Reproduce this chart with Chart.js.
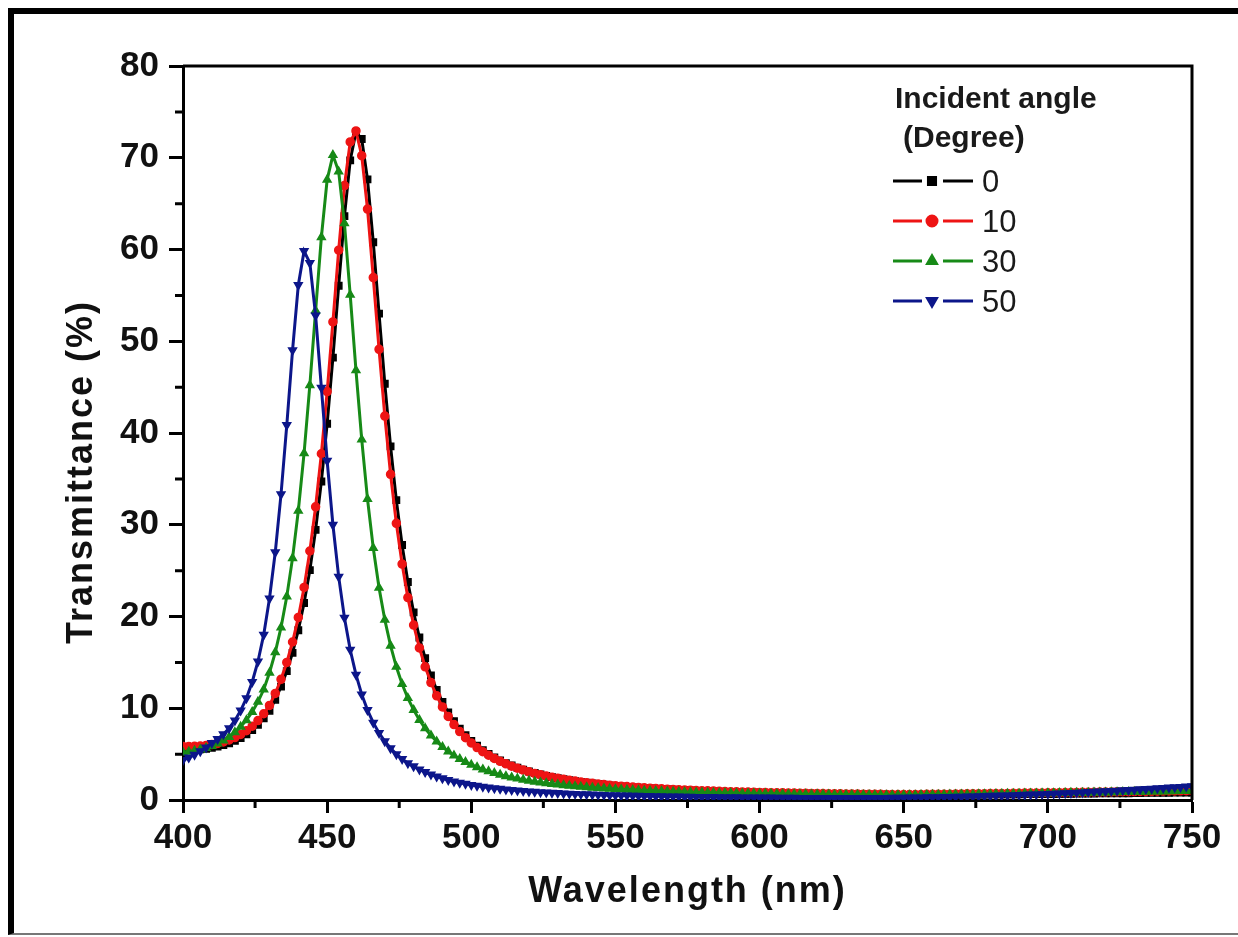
<!DOCTYPE html>
<html>
<head>
<meta charset="utf-8">
<script src="https://cdn.jsdelivr.net/npm/chart.js@4.4.1/dist/chart.umd.min.js"></script>
<style>
  html, body { margin: 0; padding: 0; background: #fff; }
  #wrap { position: relative; width: 1238px; height: 937px; }
  #frame { position: absolute; left: 8px; top: 8px; width: 1240px; height: 919px;
           border-top: 6px solid #000; border-left: 6px solid #000; border-bottom: 2px solid #777;
           pointer-events: none; }
</style>
</head>
<body>
<div id="wrap">
  <canvas id="myChart" width="1238" height="937"></canvas>
  <div id="frame"></div>
</div>
<script>
const wavelengths = [
  400,402,404,406,408,410,412,414,416,418,
  420,422,424,426,428,430,432,434,436,438,
  440,442,444,446,448,450,452,454,456,458,
  460,462,464,466,468,470,472,474,476,478,
  480,482,484,486,488,490,492,494,496,498,
  500,502,504,506,508,510,512,514,516,518,
  520,522,524,526,528,530,532,534,536,538,
  540,542,544,546,548,550,552,554,556,558,
  560,562,564,566,568,570,572,574,576,578,
  580,582,584,586,588,590,592,594,596,598,
  600,602,604,606,608,610,612,614,616,618,
  620,622,624,626,628,630,632,634,636,638,
  640,642,644,646,648,650,652,654,656,658,
  660,662,664,666,668,670,672,674,676,678,
  680,682,684,686,688,690,692,694,696,698,
  700,702,704,706,708,710,712,714,716,718,
  720,722,724,726,728,730,732,734,736,738,
  740,742,744,746,748,750
];

// transmittance (%) for each incident angle
const t0 = [
  5.45,5.46,5.48,5.52,5.59,5.69,5.82,5.98,6.19,6.45,
  6.76,7.15,7.63,8.2,8.89,9.73,10.93,12.35,14.04,16.04,
  18.5,21.47,25.05,29.44,34.72,41.01,48.22,56.05,63.64,69.72,
  72.82,72.04,67.64,60.79,53.01,45.37,38.54,32.68,27.79,23.76,
  20.45,17.71,15.46,13.57,12.0,10.68,9.55,8.59,7.78,7.06,
  6.45,5.91,5.43,5.02,4.65,4.32,4.02,3.76,3.52,3.31,
  3.11,2.94,2.78,2.63,2.49,2.37,2.26,2.15,2.05,1.96,
  1.88,1.8,1.73,1.66,1.6,1.54,1.48,1.43,1.38,1.34,
  1.3,1.26,1.22,1.18,1.15,1.12,1.09,1.06,1.03,1.0,
  0.98,0.96,0.93,0.91,0.89,0.87,0.85,0.84,0.82,0.81,
  0.79,0.77,0.76,0.75,0.73,0.72,0.71,0.7,0.69,0.68,
  0.67,0.66,0.65,0.64,0.63,0.62,0.61,0.6,0.6,0.59,
  0.58,0.57,0.57,0.56,0.55,0.55,0.55,0.55,0.56,0.56,
  0.56,0.56,0.56,0.57,0.57,0.58,0.58,0.59,0.6,0.6,
  0.61,0.61,0.61,0.62,0.62,0.63,0.64,0.64,0.65,0.65,
  0.66,0.66,0.67,0.67,0.68,0.69,0.69,0.7,0.71,0.72,
  0.72,0.72,0.73,0.74,0.74,0.75,0.76,0.77,0.78,0.78,
  0.79,0.79,0.8,0.81,0.81,0.82
];
const t10 = [
  5.84,5.84,5.85,5.88,5.95,6.04,6.16,6.33,6.54,6.81,
  7.14,7.55,8.05,8.66,9.4,10.31,11.61,13.15,14.99,17.22,
  19.9,23.17,27.14,31.96,37.74,44.51,52.1,59.93,66.97,71.72,
  72.92,70.22,64.41,56.94,49.12,41.85,35.5,30.15,25.71,22.06,
  19.07,16.58,14.52,12.8,11.36,10.14,9.11,8.22,7.46,6.79,
  6.22,5.72,5.27,4.88,4.53,4.22,3.94,3.69,3.46,3.26,
  3.07,2.9,2.75,2.61,2.48,2.36,2.25,2.15,2.06,1.97,
  1.89,1.82,1.75,1.68,1.62,1.56,1.51,1.46,1.41,1.37,
  1.33,1.29,1.25,1.22,1.18,1.15,1.12,1.09,1.07,1.04,
  1.02,1.0,0.97,0.95,0.93,0.91,0.9,0.88,0.86,0.85,
  0.83,0.82,0.8,0.79,0.78,0.77,0.75,0.74,0.73,0.72,
  0.71,0.7,0.69,0.68,0.67,0.66,0.66,0.65,0.64,0.63,
  0.62,0.62,0.61,0.6,0.6,0.59,0.6,0.6,0.61,0.62,
  0.62,0.63,0.63,0.64,0.65,0.66,0.67,0.67,0.68,0.69,
  0.7,0.71,0.71,0.72,0.73,0.74,0.75,0.75,0.76,0.77,
  0.78,0.79,0.8,0.81,0.82,0.83,0.84,0.84,0.85,0.86,
  0.87,0.88,0.89,0.9,0.91,0.92,0.93,0.94,0.95,0.96,
  0.97,0.98,0.99,1.0,1.01,1.02
];
const t30 = [
  5.19,5.26,5.37,5.5,5.67,5.88,6.16,6.48,6.88,7.38,
  7.98,8.7,9.6,10.7,12.04,13.87,16.09,18.81,22.18,26.36,
  31.52,37.8,45.21,53.34,61.34,67.6,70.29,68.49,62.85,55.06,
  46.83,39.28,32.8,27.46,23.13,19.64,16.82,14.52,12.64,11.11,
  9.82,8.73,7.81,7.03,6.37,5.79,5.29,4.85,4.47,4.13,
  3.84,3.57,3.33,3.12,2.93,2.76,2.6,2.46,2.33,2.21,
  2.1,2.0,1.91,1.83,1.75,1.68,1.61,1.55,1.49,1.44,
  1.39,1.34,1.3,1.26,1.22,1.18,1.15,1.11,1.08,1.05,
  1.02,1.0,0.97,0.95,0.93,0.91,0.89,0.87,0.85,0.83,
  0.82,0.8,0.79,0.77,0.76,0.75,0.73,0.72,0.71,0.7,
  0.69,0.68,0.67,0.66,0.65,0.64,0.63,0.62,0.62,0.61,
  0.6,0.6,0.59,0.58,0.58,0.57,0.56,0.56,0.55,0.55,
  0.54,0.54,0.53,0.53,0.52,0.52,0.52,0.53,0.55,0.55,
  0.56,0.57,0.57,0.59,0.59,0.6,0.61,0.61,0.63,0.64,
  0.64,0.65,0.66,0.67,0.68,0.69,0.7,0.7,0.72,0.73,
  0.74,0.74,0.75,0.77,0.78,0.78,0.79,0.8,0.82,0.83,
  0.83,0.84,0.85,0.87,0.88,0.89,0.89,0.9,0.92,0.93,
  0.94,0.95,0.96,0.98,0.99,1.0
];
const t50 = [
  4.36,4.63,4.94,5.31,5.73,6.22,6.64,7.17,7.83,8.67,
  9.75,11.1,12.86,15.1,18.02,21.97,27.0,33.32,40.87,49.02,
  56.13,59.83,58.54,52.82,44.94,36.97,30.0,24.34,19.87,16.38,
  13.66,11.51,9.8,8.43,7.31,6.4,5.64,5.0,4.47,4.01,
  3.67,3.33,3.04,2.78,2.56,2.36,2.18,2.02,1.88,1.76,
  1.64,1.54,1.45,1.36,1.29,1.22,1.15,1.09,1.04,0.99,
  0.94,0.89,0.85,0.82,0.78,0.75,0.72,0.69,0.66,0.64,
  0.62,0.59,0.57,0.55,0.53,0.52,0.5,0.49,0.47,0.46,
  0.44,0.43,0.42,0.4,0.39,0.38,0.37,0.36,0.35,0.34,
  0.33,0.33,0.32,0.31,0.3,0.3,0.29,0.28,0.28,0.27,
  0.27,0.26,0.26,0.25,0.25,0.24,0.24,0.23,0.23,0.22,
  0.22,0.22,0.22,0.22,0.22,0.21,0.21,0.21,0.22,0.22,
  0.22,0.23,0.23,0.24,0.24,0.25,0.26,0.27,0.28,0.29,
  0.3,0.31,0.32,0.33,0.35,0.36,0.38,0.39,0.41,0.43,
  0.45,0.46,0.48,0.5,0.52,0.55,0.57,0.59,0.61,0.64,
  0.66,0.69,0.71,0.74,0.77,0.8,0.83,0.86,0.89,0.92,
  0.95,0.98,1.02,1.05,1.08,1.12,1.16,1.19,1.23,1.27,
  1.31,1.35,1.39,1.43,1.47,1.51
];

const angleLabels = ['0', '10', '30', '50'];
const seriesColors = ['#000000', '#ee1414', '#178a17', '#0c168a'];
const xMinor = [425, 475, 525, 575, 625, 675, 725];
const yMinor = [5, 15, 25, 35, 45, 55, 65, 75];

const FONT = '"Liberation Sans", Arial, sans-serif';
const toPoints = vals => wavelengths.map((w, i) => ({ x: w, y: vals[i] }));

// box on top/right, minor ticks, axis titles
const framePlugin = {
    id: 'frameTicks',
    afterDatasetsDraw(chart) {
        const { ctx: c, chartArea: a, scales: { x, y } } = chart;
        c.save();
        c.strokeStyle = '#000';
        c.lineWidth = 3;
        c.beginPath();
        c.moveTo(a.left, a.top);
        c.lineTo(a.right, a.top);
        c.lineTo(a.right, a.bottom);
        xMinor.forEach(v => {
            const px = x.getPixelForValue(v);
            c.moveTo(px, a.bottom);
            c.lineTo(px, a.bottom + 8);
        });
        yMinor.forEach(v => {
            const py = y.getPixelForValue(v);
            c.moveTo(a.left, py);
            c.lineTo(a.left - 8, py);
        });
        c.stroke();

        c.fillStyle = '#111';
        c.font = 'bold 36px ' + FONT;
        c.letterSpacing = '2px';
        c.textAlign = 'center';
        c.textBaseline = 'alphabetic';
        c.fillText('Wavelength (nm)', (a.left + a.right) / 2, 902);
        c.translate(92, 472);
        c.rotate(-Math.PI / 2);
        c.fillText('Transmittance (%)', 0, 0);
        c.restore();
    }
};

const legendPlugin = {
    id: 'angleLegend',
    afterDraw(chart) {
        const c = chart.ctx;
        c.save();
        c.fillStyle = '#1a1a1a';
        c.font = 'bold 30px ' + FONT;
        c.textBaseline = 'alphabetic';
        c.fillText('Incident angle', 895, 108);
        c.fillText('(Degree)', 903, 147);
        c.font = '31px ' + FONT;
        c.textBaseline = 'middle';
        chart.data.datasets.forEach((ds, i) => {
            const y = 181 + i * 40;
            c.strokeStyle = ds.borderColor;
            c.fillStyle = ds.borderColor;
            c.lineWidth = 3;
            c.beginPath();
            c.moveTo(893, y); c.lineTo(922, y);
            c.moveTo(943, y); c.lineTo(973, y);
            c.stroke();
            Chart.helpers.drawPoint(c, {
                pointStyle: ds.pointStyle, radius: 5,
                rotation: ds.pointRotation || 0, borderWidth: 1
            }, 932, y);
            c.fillStyle = '#1a1a1a';
            c.fillText(ds.label, 982, y + 2);
        });
        c.restore();
    }
};

const makeSet = (i, vals, style, radius, rotation, order) => ({
    label: angleLabels[i],
    data: toPoints(vals),
    borderColor: seriesColors[i],
    backgroundColor: seriesColors[i],
    pointBorderColor: seriesColors[i],
    pointBackgroundColor: seriesColors[i],
    pointStyle: style,
    pointRadius: radius,
    pointRotation: rotation,
    pointBorderWidth: 1.5,
    borderWidth: 3,
    tension: 0,
    order: order
});

const tickFont = { family: FONT, size: 35, weight: 'bold' };

const ctx = document.getElementById('myChart').getContext('2d');
const myChart = new Chart(ctx, {
    type: 'line',
    data: {
        datasets: [
            makeSet(0, t0, 'rect', 4.5, 0, 4),
            makeSet(1, t10, 'circle', 4, 0, 3),
            makeSet(2, t30, 'triangle', 4.5, 0, 2),
            makeSet(3, t50, 'triangle', 4.5, 180, 1)
        ]
    },
    options: {
        responsive: false,
        animation: false,
        layout: { padding: { top: 66, right: 46, left: 0, bottom: 0 } },
        scales: {
            x: {
                type: 'linear',
                min: 400,
                max: 750,
                afterFit: s => { s.height = 137; },
                ticks: { stepSize: 50, font: tickFont, color: '#111', padding: 4, maxRotation: 0 },
                grid: { display: true, drawOnChartArea: false, drawTicks: true, tickLength: 13, tickWidth: 3, tickColor: '#000' },
                border: { display: true, color: '#000', width: 3 }
            },
            y: {
                min: 0,
                max: 80,
                afterFit: s => { s.width = 183; },
                ticks: { stepSize: 10, font: tickFont, color: '#111', padding: 10 },
                grid: { display: true, drawOnChartArea: false, drawTicks: true, tickLength: 14, tickWidth: 3, tickColor: '#000' },
                border: { display: true, color: '#000', width: 3 }
            }
        },
        plugins: {
            legend: { display: false },
            tooltip: { enabled: false }
        }
    },
    plugins: [framePlugin, legendPlugin]
});
</script>
</body>
</html>
